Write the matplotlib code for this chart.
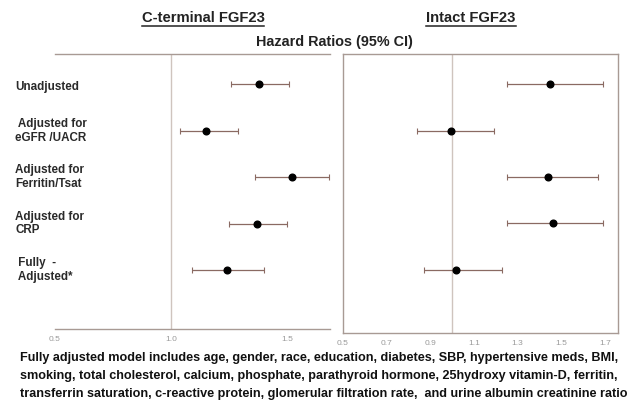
import matplotlib
matplotlib.use("Agg")
import matplotlib.pyplot as plt
from matplotlib import transforms
from matplotlib.lines import Line2D

plt.rcParams["font.family"] = ["Liberation Sans", "DejaVu Sans"]

# rows, top to bottom
row_labels = ["Unadjusted", " Adjusted for\neGFR /UACR", "Adjusted for\nFerritin/Tsat",
              "Adjusted for\nCRP", " Fully  -\n Adjusted*"]

# C-terminal FGF23 hazard ratios and 95% CI
cterm_hr = [1.38, 1.15, 1.52, 1.37, 1.24]
cterm_lo = [1.26, 1.04, 1.36, 1.25, 1.09]
cterm_hi = [1.51, 1.29, 1.68, 1.50, 1.40]

# Intact FGF23 hazard ratios and 95% CI
intact_hr = [1.45, 0.995, 1.44, 1.46, 1.02]
intact_lo = [1.25, 0.84, 1.25, 1.25, 0.87]
intact_hi = [1.69, 1.19, 1.67, 1.69, 1.23]

left_ticks = [0.5, 1.0, 1.5]
right_ticks = [0.5, 0.7, 0.9, 1.1, 1.3, 1.5, 1.7]

footnote = [
    "Fully adjusted model includes age, gender, race, education, diabetes, SBP, hypertensive meds, BMI,",
    "smoking, total cholesterol, calcium, phosphate, parathyroid hormone, 25hydroxy vitamin-D, ferritin,",
    "transferrin saturation, c-reactive protein, glomerular filtration rate,  and urine albumin creatinine ratio",
]

W, H = 635, 403
fig = plt.figure(figsize=(W / 100, H / 100), dpi=100)
frame_c = "#a89a94"
ref_c = "#cfc4be"
bar_c = "#8a6a62"


def px_axes(x0, y0, x1, y1):
    return fig.add_axes([x0 / W, 1 - y1 / H, (x1 - x0) / W, (y1 - y0) / H])


axL = px_axes(55, 54, 330, 329)
axR = px_axes(343, 54, 618, 333)

ys = list(range(len(row_labels)))
for ax, hr, lo, hi, ticks, xlim, ylim in [
    (axL, cterm_hr, cterm_lo, cterm_hi, left_ticks, (0.515, 1.685), (5.27, -0.65)),
    (axR, intact_hr, intact_lo, intact_hi, right_ticks, (0.5, 1.76), (5.36, -0.65)),
]:
    ax.axvline(1.0, color=ref_c, lw=1.0, zorder=1)
    xerr = [[h - l for h, l in zip(hr, lo)], [u - h for h, u in zip(hr, hi)]]
    ax.errorbar(hr, ys, xerr=xerr, fmt="o", color="black", ms=4.8,
                ecolor=bar_c, elinewidth=0.9, capsize=2, capthick=0.8, zorder=3)
    ax.set_xlim(*xlim)
    ax.set_ylim(*ylim)
    ax.set_yticks([])
    ax.set_xticks(ticks)
    ax.set_xticklabels([f"{t:.1f}" for t in ticks])
    ax.tick_params(axis="x", length=0, labelsize=6, labelcolor="#9a9a9a", pad=5)
    for s in ax.spines.values():
        s.set_color(frame_c)
        s.set_linewidth(1.0)

axL.spines["left"].set_visible(False)
axL.spines["right"].set_visible(False)

# row labels on the far left
trans = transforms.blended_transform_factory(fig.transFigure, axL.transData)
for y, lab in zip(ys, row_labels):
    dy = 0.06 if "\n" not in lab else 0.0
    fig.text(15 / W, y + dy, lab, transform=trans, ha="left", va="center",
             fontsize=8.4, fontweight="bold", color="#2a2a2a", linespacing=1.2)

# panel titles with underline
fig.canvas.draw()
for x, lab in [(203, "C-terminal FGF23"), (471, "Intact FGF23")]:
    t = fig.text(x / W, 1 - 18 / H, lab, ha="center", va="center",
                 fontsize=10.6, fontweight="bold", color="#222222")
    fig.canvas.draw()
    bb = t.get_window_extent().transformed(fig.transFigure.inverted())
    fig.add_artist(Line2D([bb.x0, bb.x1], [bb.y0 - 0.003, bb.y0 - 0.003],
                          transform=fig.transFigure, color="#222222", lw=1.1))

fig.text(334 / W, 1 - 42 / H, "Hazard Ratios (95% CI)", ha="center", va="center",
         fontsize=10.4, fontweight="bold", color="#222222")

for i, line in enumerate(footnote):
    fig.text(20 / W, 1 - (358 + 18 * i) / H, line, ha="left", va="center",
             fontsize=9.1, fontweight="bold", color="#111111")

fig.savefig("out.png", dpi=100, facecolor="white")
